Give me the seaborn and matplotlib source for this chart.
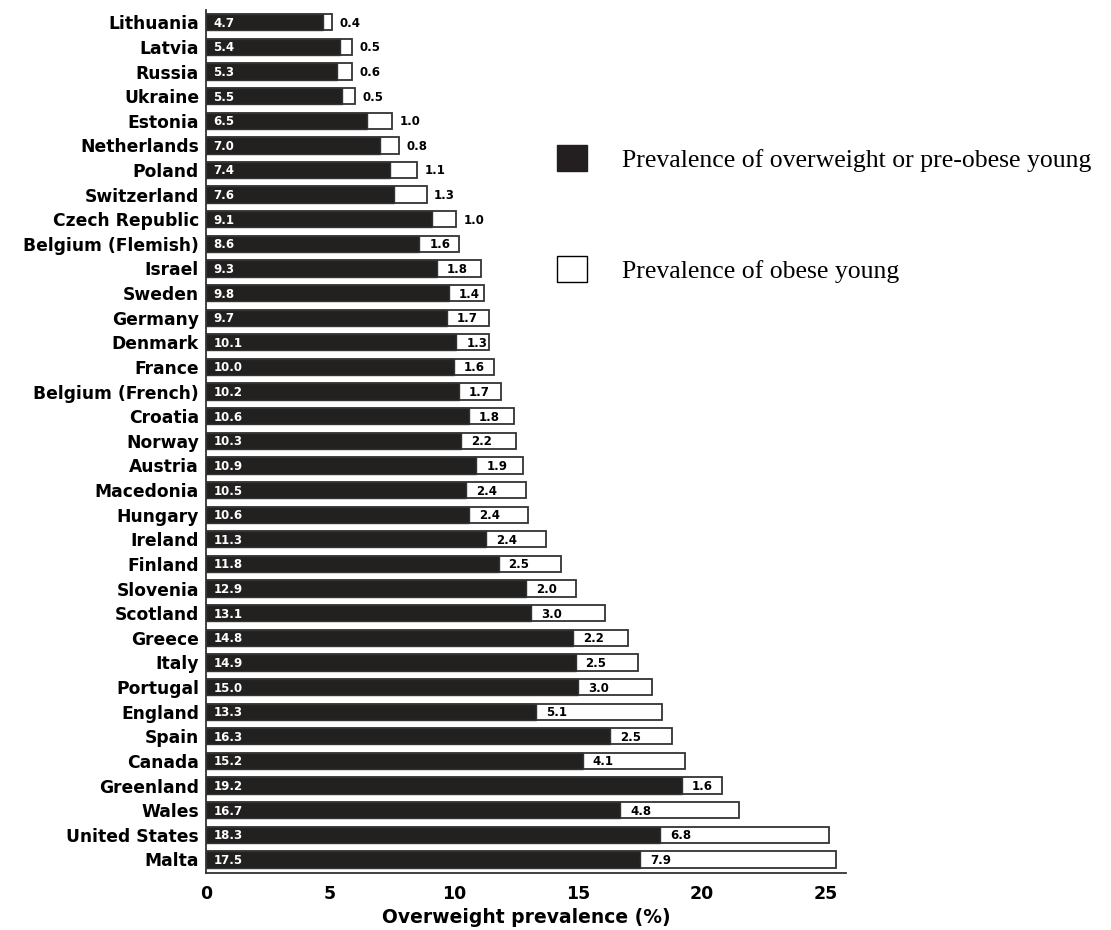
import matplotlib
matplotlib.use("Agg")
import matplotlib.pyplot as plt
import seaborn as sns
import pandas as pd
from matplotlib.patches import Patch

countries = ["Lithuania", "Latvia", "Russia", "Ukraine", "Estonia", "Netherlands",
             "Poland", "Switzerland", "Czech Republic", "Belgium (Flemish)", "Israel",
             "Sweden", "Germany", "Denmark", "France", "Belgium (French)", "Croatia",
             "Norway", "Austria", "Macedonia", "Hungary", "Ireland", "Finland",
             "Slovenia", "Scotland", "Greece", "Italy", "Portugal", "England", "Spain",
             "Canada", "Greenland", "Wales", "United States", "Malta"]
overweight = [4.7, 5.4, 5.3, 5.5, 6.5, 7.0, 7.4, 7.6, 9.1, 8.6, 9.3, 9.8, 9.7, 10.1,
              10.0, 10.2, 10.6, 10.3, 10.9, 10.5, 10.6, 11.3, 11.8, 12.9, 13.1, 14.8,
              14.9, 15.0, 13.3, 16.3, 15.2, 19.2, 16.7, 18.3, 17.5]
obese = [0.4, 0.5, 0.6, 0.5, 1.0, 0.8, 1.1, 1.3, 1.0, 1.6, 1.8, 1.4, 1.7, 1.3, 1.6,
         1.7, 1.8, 2.2, 1.9, 2.4, 2.4, 2.4, 2.5, 2.0, 3.0, 2.2, 2.5, 3.0, 5.1, 2.5,
         4.1, 1.6, 4.8, 6.8, 7.9]

df = pd.DataFrame({"country": countries, "overweight": overweight, "obese": obese})
df["total"] = df["overweight"] + df["obese"]

sns.set_style("white")
plt.rcParams["font.family"] = ["DejaVu Sans"]
plt.rcParams["text.color"] = "black"
plt.rcParams["axes.labelcolor"] = "black"
plt.rcParams["xtick.color"] = "black"
plt.rcParams["ytick.color"] = "black"

fig = plt.figure(figsize=(11.11, 9.3), dpi=100)
ax = fig.add_axes([0.1854, 0.0613, 0.576, 0.928])

# white (obese) bar behind, black (overweight) bar in front
sns.barplot(data=df, x="total", y="country", color="white", edgecolor="#333333",
            linewidth=1.3, width=0.66, orient="h", ax=ax)
sns.barplot(data=df, x="overweight", y="country", color="#231f20", edgecolor="#333333",
            linewidth=1.0, width=0.66, orient="h", ax=ax)

for i, row in df.iterrows():
    ax.text(0.3, i + 0.04, f"{row.overweight:.1f}", color="white", fontsize=8.5,
            fontweight="bold", va="center", ha="left")
    if i < 9:
        ax.text(row.total + 0.3, i + 0.04, f"{row.obese:.1f}", color="black",
                fontsize=8.5, fontweight="bold", va="center", ha="left")
    else:
        ax.text(row.overweight + 0.4, i + 0.04, f"{row.obese:.1f}", color="black",
                fontsize=8.5, fontweight="bold", va="center", ha="left")

ax.set_xlim(0, 25.8)
ax.set_ylim(34.55, -0.5)
ax.set_xticks([0, 5, 10, 15, 20, 25])
ax.set_xlabel("Overweight prevalence (%)", fontsize=13.5, fontweight="bold", labelpad=3)
ax.set_ylabel("")
ax.tick_params(axis="x", labelsize=12.5, length=7, width=1.2, direction="out", pad=2)
ax.tick_params(axis="y", labelsize=12.3, length=0, pad=5)
for lab in ax.get_xticklabels() + ax.get_yticklabels():
    lab.set_fontweight("bold")
sns.despine(ax=ax, top=True, right=True)
for s in ["left", "bottom"]:
    ax.spines[s].set_color("#333333")
    ax.spines[s].set_linewidth(1.3)

handles = [Patch(facecolor="#231f20", edgecolor="#231f20"),
           Patch(facecolor="white", edgecolor="black")]
fig.legend(handles, ["Prevalence of overweight or pre-obese young", "Prevalence of obese young"],
           loc="upper left", bbox_to_anchor=(0.4897, 0.858), frameon=False, borderpad=0,
           handlelength=1.17, handleheight=1.17, labelspacing=3.3, handletextpad=1.36,
           prop={"family": "Liberation Serif", "size": 18.5})

fig.savefig("out.png", dpi=100)
